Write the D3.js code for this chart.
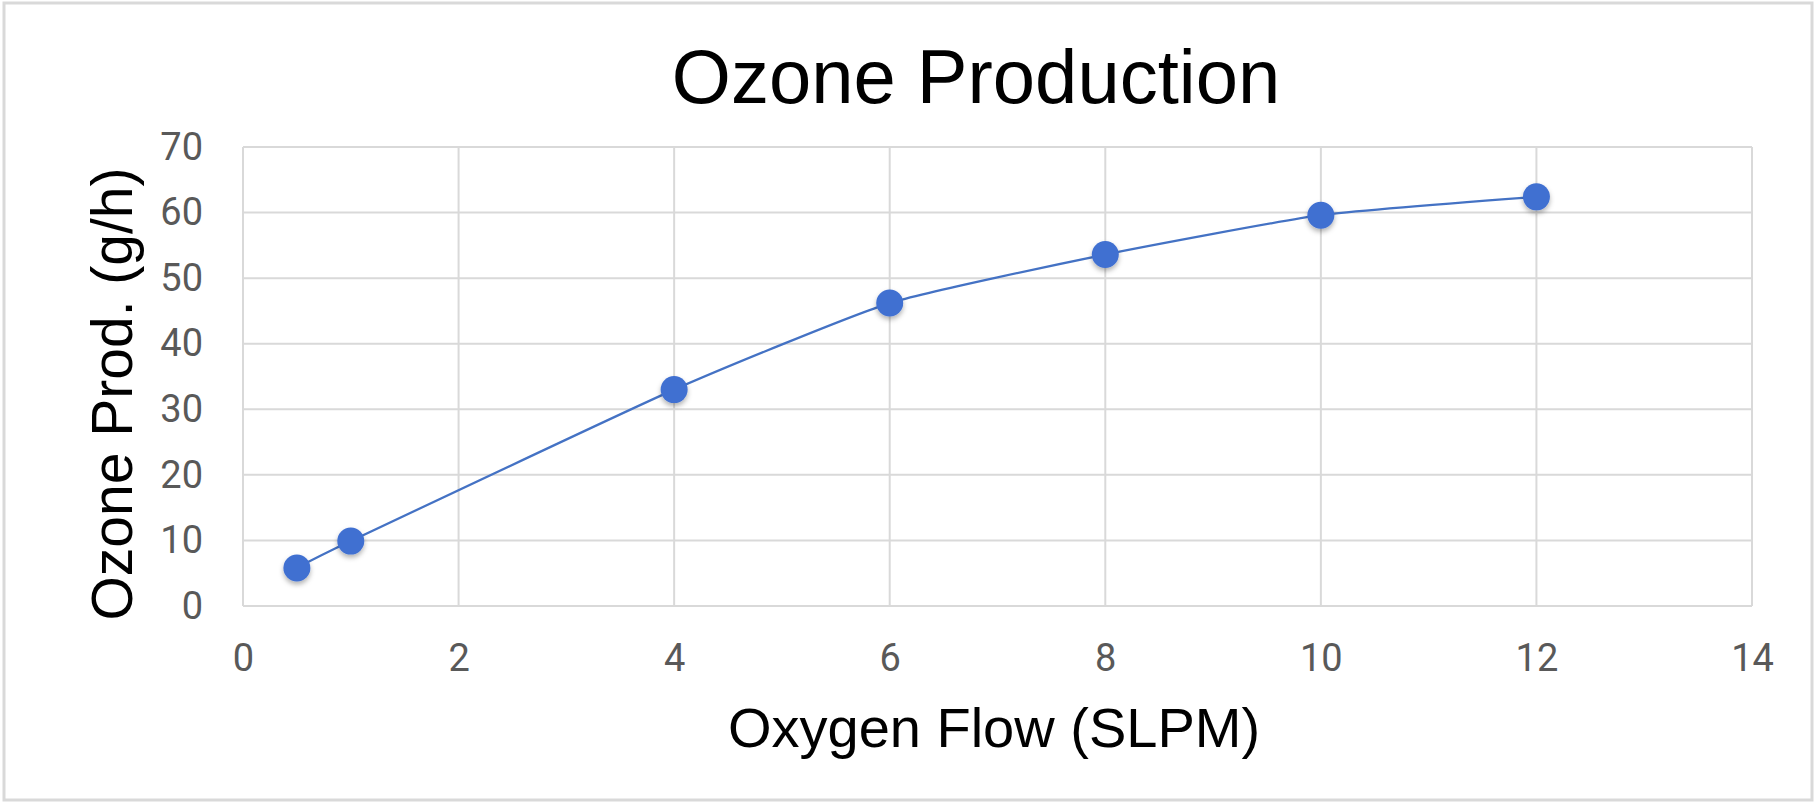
<!DOCTYPE html>
<html>
<head>
<meta charset="utf-8">
<script src="https://cdn.jsdelivr.net/npm/d3@7"></script>
<style>
  html, body { margin: 0; padding: 0; background: #fff; }
  svg { display: block; }
</style>
</head>
<body>
<div id="chart"></div>
<script>
// Oxygen flow (SLPM) vs ozone production (g/h)
const flow = [0.5, 1, 4, 6, 8, 10, 12]
const ozone = [5.8, 9.9, 33, 46.2, 53.6, 59.6, 62.4]
const xTicks = [0, 2, 4, 6, 8, 10, 12, 14]
const yTicks = [0, 10, 20, 30, 40, 50, 60, 70]

const width = 1815
const height = 802
const margin = { top: 147, right: 63, bottom: 196, left: 243 }
const innerW = width - margin.left - margin.right
const innerH = height - margin.top - margin.bottom

const svg = d3.select("#chart")
  .append("svg")
  .attr("width", width)
  .attr("height", height)

const defs = svg.append("defs")
const shadow = defs.append("filter")
  .attr("id", "marker-shadow")
  .attr("x", "-50%").attr("y", "-50%")
  .attr("width", "200%").attr("height", "200%")
shadow.append("feDropShadow")
  .attr("dx", 0).attr("dy", 3)
  .attr("stdDeviation", 2.5)
  .attr("flood-color", "#000")
  .attr("flood-opacity", 0.3)

// Outer chart border
svg.append("rect")
  .attr("x", 4).attr("y", 3)
  .attr("width", width - 7).attr("height", height - 5)
  .attr("fill", "#fff")
  .attr("stroke", "#d9d9d9")
  .attr("stroke-width", 3)

const g = svg.append("g")
  .attr("transform", `translate(${margin.left},${margin.top})`)

const x = d3.scaleLinear().domain([0, 14]).range([0, innerW])
const y = d3.scaleLinear().domain([0, 70]).range([innerH, 0])

// Grid
g.append("g")
  .selectAll("line")
  .data(yTicks)
  .join("line")
  .attr("x1", 0).attr("x2", innerW)
  .attr("y1", d => y(d)).attr("y2", d => y(d))
  .attr("stroke", "#d9d9d9")
  .attr("stroke-width", 2)

g.append("g")
  .selectAll("line")
  .data(xTicks)
  .join("line")
  .attr("x1", d => x(d)).attr("x2", d => x(d))
  .attr("y1", 0).attr("y2", innerH)
  .attr("stroke", "#d9d9d9")
  .attr("stroke-width", 2)

// Axes (labels only)
const xAxis = g.append("g")
  .attr("transform", `translate(0,${innerH})`)
  .call(d3.axisBottom(x).tickValues(xTicks).tickSize(0).tickPadding(38))
xAxis.select(".domain").remove()
xAxis.selectAll("text")
  .attr("font-family", "Roboto, sans-serif")
  .attr("font-size", "38px")
  .attr("fill", "#595959")

const yAxis = g.append("g")
  .call(d3.axisLeft(y).tickValues(yTicks).tickSize(0).tickPadding(40))
yAxis.select(".domain").remove()
yAxis.selectAll("text")
  .attr("font-family", "Roboto, sans-serif")
  .attr("font-size", "38px")
  .attr("fill", "#595959")

// Titles
svg.append("text")
  .attr("x", 976).attr("y", 103)
  .attr("text-anchor", "middle")
  .attr("font-family", "'Liberation Sans', Arial, sans-serif")
  .attr("font-size", "76px")
  .attr("fill", "#000")
  .text("Ozone Production")

svg.append("text")
  .attr("x", 994).attr("y", 747)
  .attr("text-anchor", "middle")
  .attr("font-family", "'Liberation Sans', Arial, sans-serif")
  .attr("font-size", "56px")
  .attr("fill", "#000")
  .text("Oxygen Flow (SLPM)")

svg.append("text")
  .attr("transform", "translate(132,394) rotate(-90)")
  .attr("text-anchor", "middle")
  .attr("font-family", "'Liberation Sans', Arial, sans-serif")
  .attr("font-size", "57px")
  .attr("fill", "#000")
  .text("Ozone Prod. (g/h)")

// Series line (lightly smoothed)
const pts = flow.map((f, i) => [x(f), y(ozone[i])])
const line = d3.line().curve(d3.curveCardinal.tension(0.5))

g.append("path")
  .attr("d", line(pts))
  .attr("fill", "none")
  .attr("stroke", "#4472c4")
  .attr("stroke-width", 2.25)

// Markers
g.append("g")
  .selectAll("circle")
  .data(pts)
  .join("circle")
  .attr("cx", d => d[0])
  .attr("cy", d => d[1])
  .attr("r", 13.5)
  .attr("fill", "#3f6fd1")
  .attr("filter", "url(#marker-shadow)")
</script>
</body>
</html>
